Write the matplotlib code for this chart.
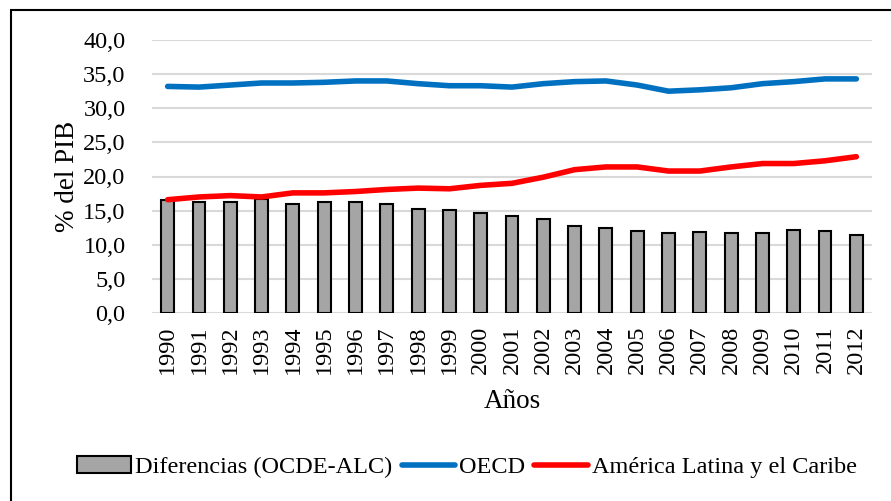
import matplotlib
matplotlib.use('Agg')
import matplotlib.pyplot as plt
from matplotlib.patches import Rectangle
from matplotlib.ticker import FuncFormatter, MultipleLocator

years = [str(y) for y in range(1990, 2013)]
oecd = [33.2, 33.1, 33.4, 33.7, 33.7, 33.8, 34.0, 34.0, 33.6, 33.3, 33.3, 33.1,
        33.6, 33.9, 34.0, 33.4, 32.5, 32.7, 33.0, 33.6, 33.9, 34.3, 34.3]
alc = [16.6, 17.0, 17.2, 17.0, 17.6, 17.6, 17.8, 18.1, 18.3, 18.2, 18.7, 19.0,
       19.9, 21.0, 21.4, 21.4, 20.8, 20.8, 21.4, 21.9, 21.9, 22.3, 22.9]
dif = [16.6, 16.2, 16.2, 16.7, 16.0, 16.3, 16.3, 16.0, 15.3, 15.1, 14.7, 14.2,
       13.8, 12.8, 12.5, 12.0, 11.7, 11.8, 11.7, 11.7, 12.1, 12.0, 11.5]

plt.rcParams['font.family'] = ['Liberation Serif', 'DejaVu Serif']
fig = plt.figure(figsize=(8.91, 5.01), dpi=100)
ax = fig.add_axes([152/891, 1-313/501, 720/891, 273/501])
x = range(len(years))
b = ax.bar(x, dif, width=0.41, color='#a5a5a5', edgecolor='black', linewidth=1.5,
           label='Diferencias (OCDE-ALC)', zorder=2)
l1, = ax.plot(x, oecd, color='#0070c0', lw=4, solid_capstyle='round', label='OECD', zorder=3)
l2, = ax.plot(x, alc, color='#ff0000', lw=4, solid_capstyle='round',
              label='América Latina y el Caribe', zorder=3)
ax.set_xlim(-0.5, len(years)-0.5)
ax.set_ylim(0, 40)
ax.yaxis.set_major_locator(MultipleLocator(5))
ax.yaxis.set_major_formatter(FuncFormatter(lambda v, p: f'{v:.1f}'.replace('.', ',')))
ax.set_xticks(list(x))
ax.set_xticklabels(years, rotation=90)
ax.grid(axis='y', color='#d9d9d9', lw=1.5, zorder=0)
ax.set_axisbelow(True)
for s in ax.spines.values():
    s.set_visible(False)
ax.tick_params(length=0, labelsize=17.5, colors='black')
ax.tick_params(axis='y', pad=19)
ax.tick_params(axis='x', pad=9)
ax.set_ylabel('% del PIB', fontsize=19.5, labelpad=2)
ax.set_xlabel('Años', fontsize=19.5, labelpad=11)
fig.legend([b, l1, l2], [b.get_label(), l1.get_label(), l2.get_label()],
           loc='center', bbox_to_anchor=(467/891, 1-467/501), ncol=3,
           frameon=False, fontsize=17.5, handlelength=2.2, handletextpad=0.15,
           columnspacing=0.4, borderaxespad=0)
fig.patches.append(Rectangle((11/891, -0.1), 1.0, 1-10/501+0.1, transform=fig.transFigure,
                             fill=False, edgecolor='black', lw=1.5))
fig.savefig('out.png', dpi=100)
